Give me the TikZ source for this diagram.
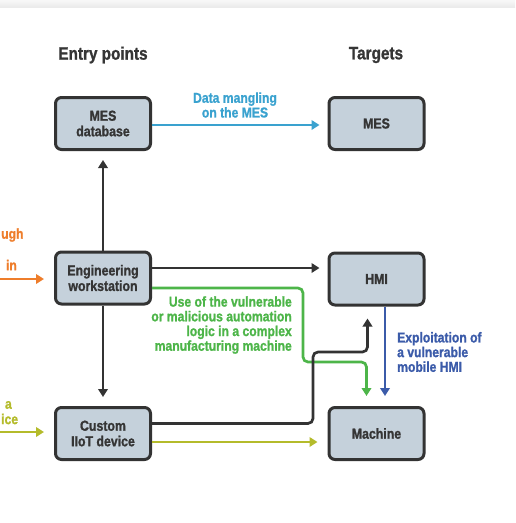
\documentclass[tikz,border=0pt]{standalone}
\usepackage{fontspec}
\setmainfont{Liberation Sans}[FakeStretch=0.85, BoldFeatures={FakeBold=1.2}]
\usetikzlibrary{arrows.meta}
\definecolor{boxfill}{HTML}{C5D1DB}
\definecolor{boxline}{HTML}{333333}
\definecolor{txtgray}{HTML}{353535}
\definecolor{cyanc}{HTML}{3AA2CF}
\definecolor{greenc}{HTML}{4DB549}
\definecolor{dbluec}{HTML}{3B5BA9}
\definecolor{orangec}{HTML}{EE7D2B}
\definecolor{olivec}{HTML}{B4BB2B}
\tikzset{
  box/.style={draw=boxline, line width=3pt, fill=boxfill, rounded corners=6pt,
    minimum width=95pt, minimum height=52pt, inner sep=0pt, align=center,
    text=txtgray, font=\fontsize{14.5}{15.5}\selectfont\bfseries},
  title/.style={text=txtgray, font=\fontsize{18}{20}\selectfont\bfseries},
  lbl/.style={inner sep=0pt, font=\fontsize{14.3}{14.7}\selectfont\bfseries},
  conn/.style={line width=2.7pt, -{Triangle[length=8pt,width=9.5pt]}},
  blk/.style={conn, draw=boxline},
}
\begin{document}
\begin{tikzpicture}[x=1pt,y=-1pt]
\useasboundingbox (0,0) rectangle (515,523);
\fill[top color=gray!6, bottom color=gray!16] (0,0) rectangle (515,7);

\node[title] (t1) at (103,55) {Entry points};
\node[title] (t2) at (376,55) {Targets};

\node[box] (mesdb) at (103,123.5) {MES\\database};
\node[box] (mes) at (376.5,123.5) {MES};
\node[box] (ew) at (103,278) {Engineering\\workstation};
\node[box] (hmi) at (376.5,279) {HMI};
\node[box] (iiot) at (103,433.5) {Custom\\IIoT device};
\node[box] (machine) at (376.5,433.5) {Machine};

\coordinate (o) at (0,279);
\coordinate (y) at (0,432);

% top cyan
\draw[conn, draw=cyanc, shorten >=8pt] ([yshift=-1.5pt]mesdb.east) -- ([yshift=-1.5pt]mes.west);
\node[lbl, text=cyanc, align=center] (l1) at (235,105) {Data mangling\\on the MES};

% vertical black
\draw[blk, shorten >=9pt] (ew.north) -- (mesdb.south);
\draw[blk, shorten >=9pt] (ew.south) -- (iiot.north);
% ew to hmi
\draw[blk, shorten >=8pt] ([yshift=10pt]ew.east) -- ([yshift=11pt]hmi.west);

% green
\draw[conn, draw=greenc, rounded corners=5pt, shorten >=10pt]
  ([yshift=-10pt]ew.east) -| (303,362) -| ([xshift=-10pt]machine.north);
\node[lbl, text=greenc, align=right, anchor=east] (l2) at (292,325)
  {Use of the vulnerable\\or malicious automation\\logic in a complex\\manufacturing machine};

% black iiot to hmi
\draw[blk, rounded corners=5pt, shorten >=12pt]
  ([yshift=10pt]iiot.east) -| (313,352) -| ([xshift=-9pt]hmi.south);

% blue
\draw[conn, draw=dbluec, shorten >=10pt] ([xshift=8.5pt]hmi.south) -- ([xshift=8.5pt]machine.north);
\node[lbl, text=dbluec, align=left, anchor=west] (l3) at (397,352)
  {Exploitation of\\a vulnerable\\mobile HMI};

% olive
\draw[conn, draw=olivec, shorten >=10pt] ([yshift=-8.5pt]iiot.east) -- ([yshift=-8.5pt]machine.west);

% left incoming
\draw[conn, draw=orangec, shorten >=10pt] (o) -- (o -| ew.west);
\draw[conn, draw=olivec, shorten >=10pt] (y) -- (y -| iiot.west);
\node[lbl, text=orangec, anchor=west] (l4) at (1,235) {ugh};
\node[lbl, text=orangec, anchor=east] (l5) at (17,265) {in};
\node[lbl, text=olivec, anchor=east] (l6) at (12,405) {a};
\node[lbl, text=olivec, anchor=west] (l7) at (1,419) {ice};
\end{tikzpicture}
\end{document}
